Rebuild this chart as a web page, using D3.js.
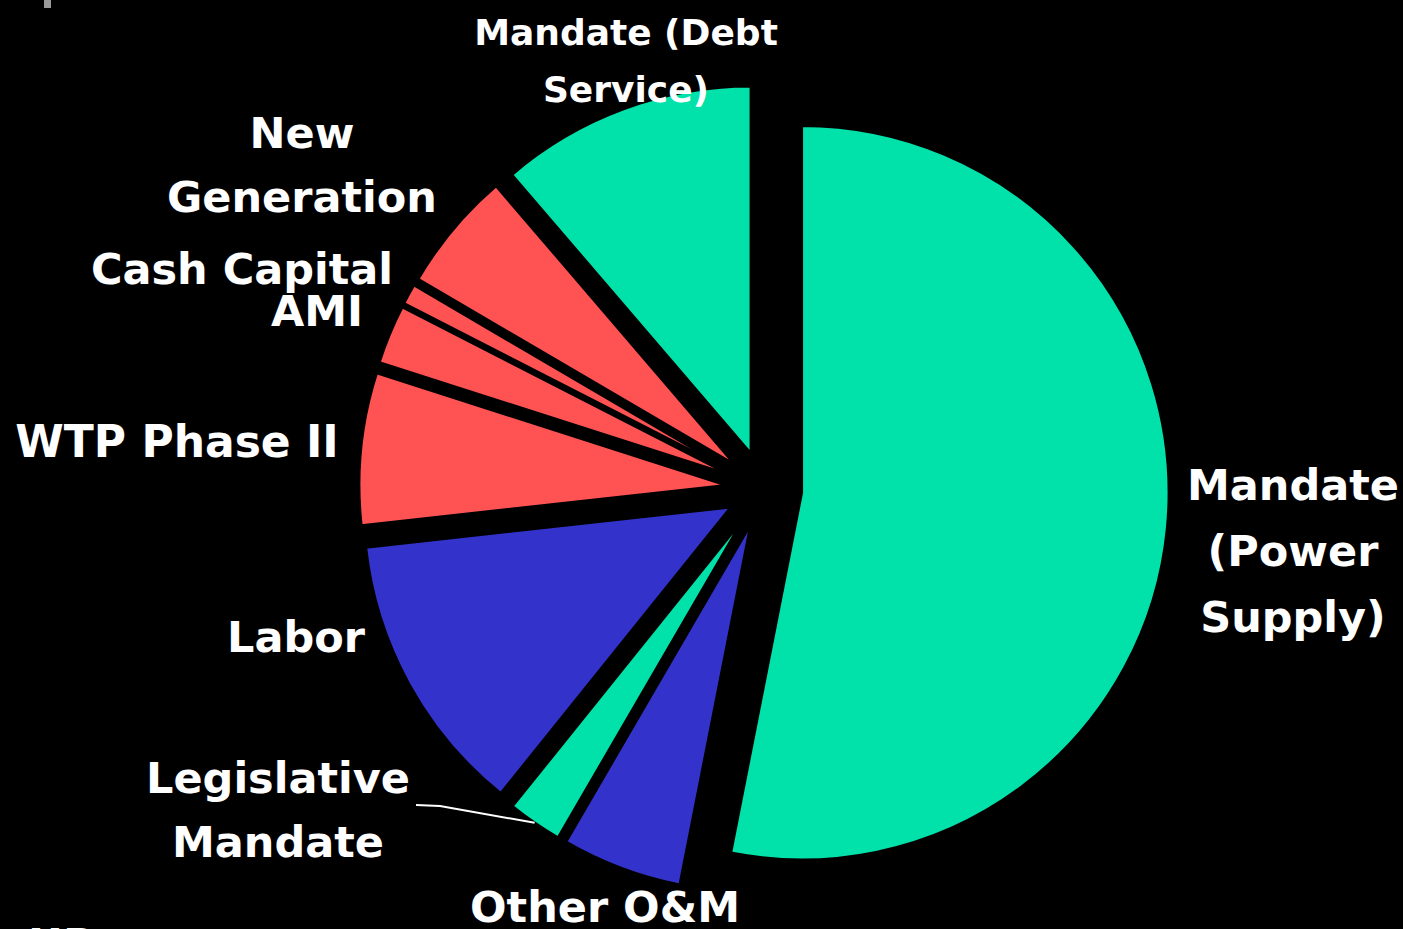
<!DOCTYPE html>
<html>
<head>
<meta charset="utf-8">
<script src="https://cdn.jsdelivr.net/npm/d3@7"></script>
<style>
  html, body { margin: 0; padding: 0; background: #000; overflow: hidden; }
  svg { display: block; }
  .lbl { font-family: "DejaVu Sans", Verdana, sans-serif; font-weight: bold; fill: #fff; }
</style>
</head>
<body>
<div id="chart"></div>
<script>
// slices, clockwise from 12 o'clock
const categories = ["Mandate (Power Supply)", "Other O&M", "Legislative Mandate", "Labor",
                    "WTP Phase II", "AMI", "Cash Capital", "New Generation", "Mandate (Debt Service)"];
const shares = [53.2, 5.3, 2.4, 12.5, 6.7, 2.6, 0.9, 5.3, 11.3];
const groups = ["mandate", "opex", "mandate", "opex", "capital", "capital", "capital", "capital", "mandate"];
const labelLines = [
  ["Mandate", "(Power", "Supply)"],
  ["Other O&M"],
  ["Legislative", "Mandate"],
  ["Labor"],
  ["WTP Phase II"],
  ["AMI"],
  ["Cash Capital"],
  ["New", "Generation"],
  ["Mandate (Debt", "Service)"]
];

const width = 1403;
const height = 929;
const cx = 764, cy = 489;
const radius = 367;
const explode = 38;

const color = d3.scaleOrdinal()
  .domain(["mandate", "opex", "capital"])
  .range(["#00E2AA", "#3333CC", "#FF5252"]);

// label anchors: [center x, first baseline, line step, font size]
const labelPos = [
  [1293, 500, 66, 43],
  [605, 922, 0, 43],
  [278, 793, 64, 43],
  [296, 652, 0, 43],
  [177, 457, 0, 44],
  [317, 326, 0, 43],
  [242, 284, 0, 43],
  [302, 148, 64, 43],
  [626, 45, 57, 36]
];

const svg = d3.select("#chart")
  .append("svg")
    .attr("width", width)
    .attr("height", height);

svg.append("rect")
  .attr("width", width)
  .attr("height", height)
  .attr("fill", "#000");

const pie = d3.pie().sort(null).value(d => d);
const arcs = pie(shares);

const arc = d3.arc()
  .innerRadius(0)
  .outerRadius(radius);

function offset(d) {
  const mid = (d.startAngle + d.endAngle) / 2;
  return [cx + explode * Math.sin(mid), cy - explode * Math.cos(mid)];
}

svg.append("g")
  .selectAll("path")
  .data(arcs)
  .enter()
  .append("path")
    .attr("transform", d => "translate(" + offset(d) + ")")
    .attr("d", arc)
    .attr("fill", (d, i) => color(groups[i]))
    .attr("stroke", "#000")
    .attr("stroke-width", 2.5);

// leader line for Legislative Mandate
const leg = arcs[2];
const legMid = (leg.startAngle + leg.endAngle) / 2;
const legO = offset(leg);
const legEnd = [legO[0] + radius * Math.sin(legMid), legO[1] - radius * Math.cos(legMid)];
svg.append("path")
  .attr("d", d3.line()([[416, 805], [440, 806], legEnd]))
  .attr("fill", "none")
  .attr("stroke", "#fff")
  .attr("stroke-width", 2);

// labels
categories.forEach((c, i) => {
  const p = labelPos[i];
  const t = svg.append("text")
    .attr("class", "lbl")
    .attr("text-anchor", "middle")
    .attr("font-size", p[3]);
  labelLines[i].forEach((line, j) => {
    t.append("tspan")
      .attr("x", p[0])
      .attr("y", p[1] + j * p[2])
      .text(line);
  });
});

// cut-off bits at the edges of the slide
svg.append("rect")
  .attr("x", 44).attr("y", 0)
  .attr("width", 7).attr("height", 8)
  .attr("fill", "#999");

svg.append("text")
  .attr("class", "lbl")
  .attr("x", 28)
  .attr("y", 959)
  .attr("font-size", 43)
  .text("UP");
</script>
</body>
</html>
